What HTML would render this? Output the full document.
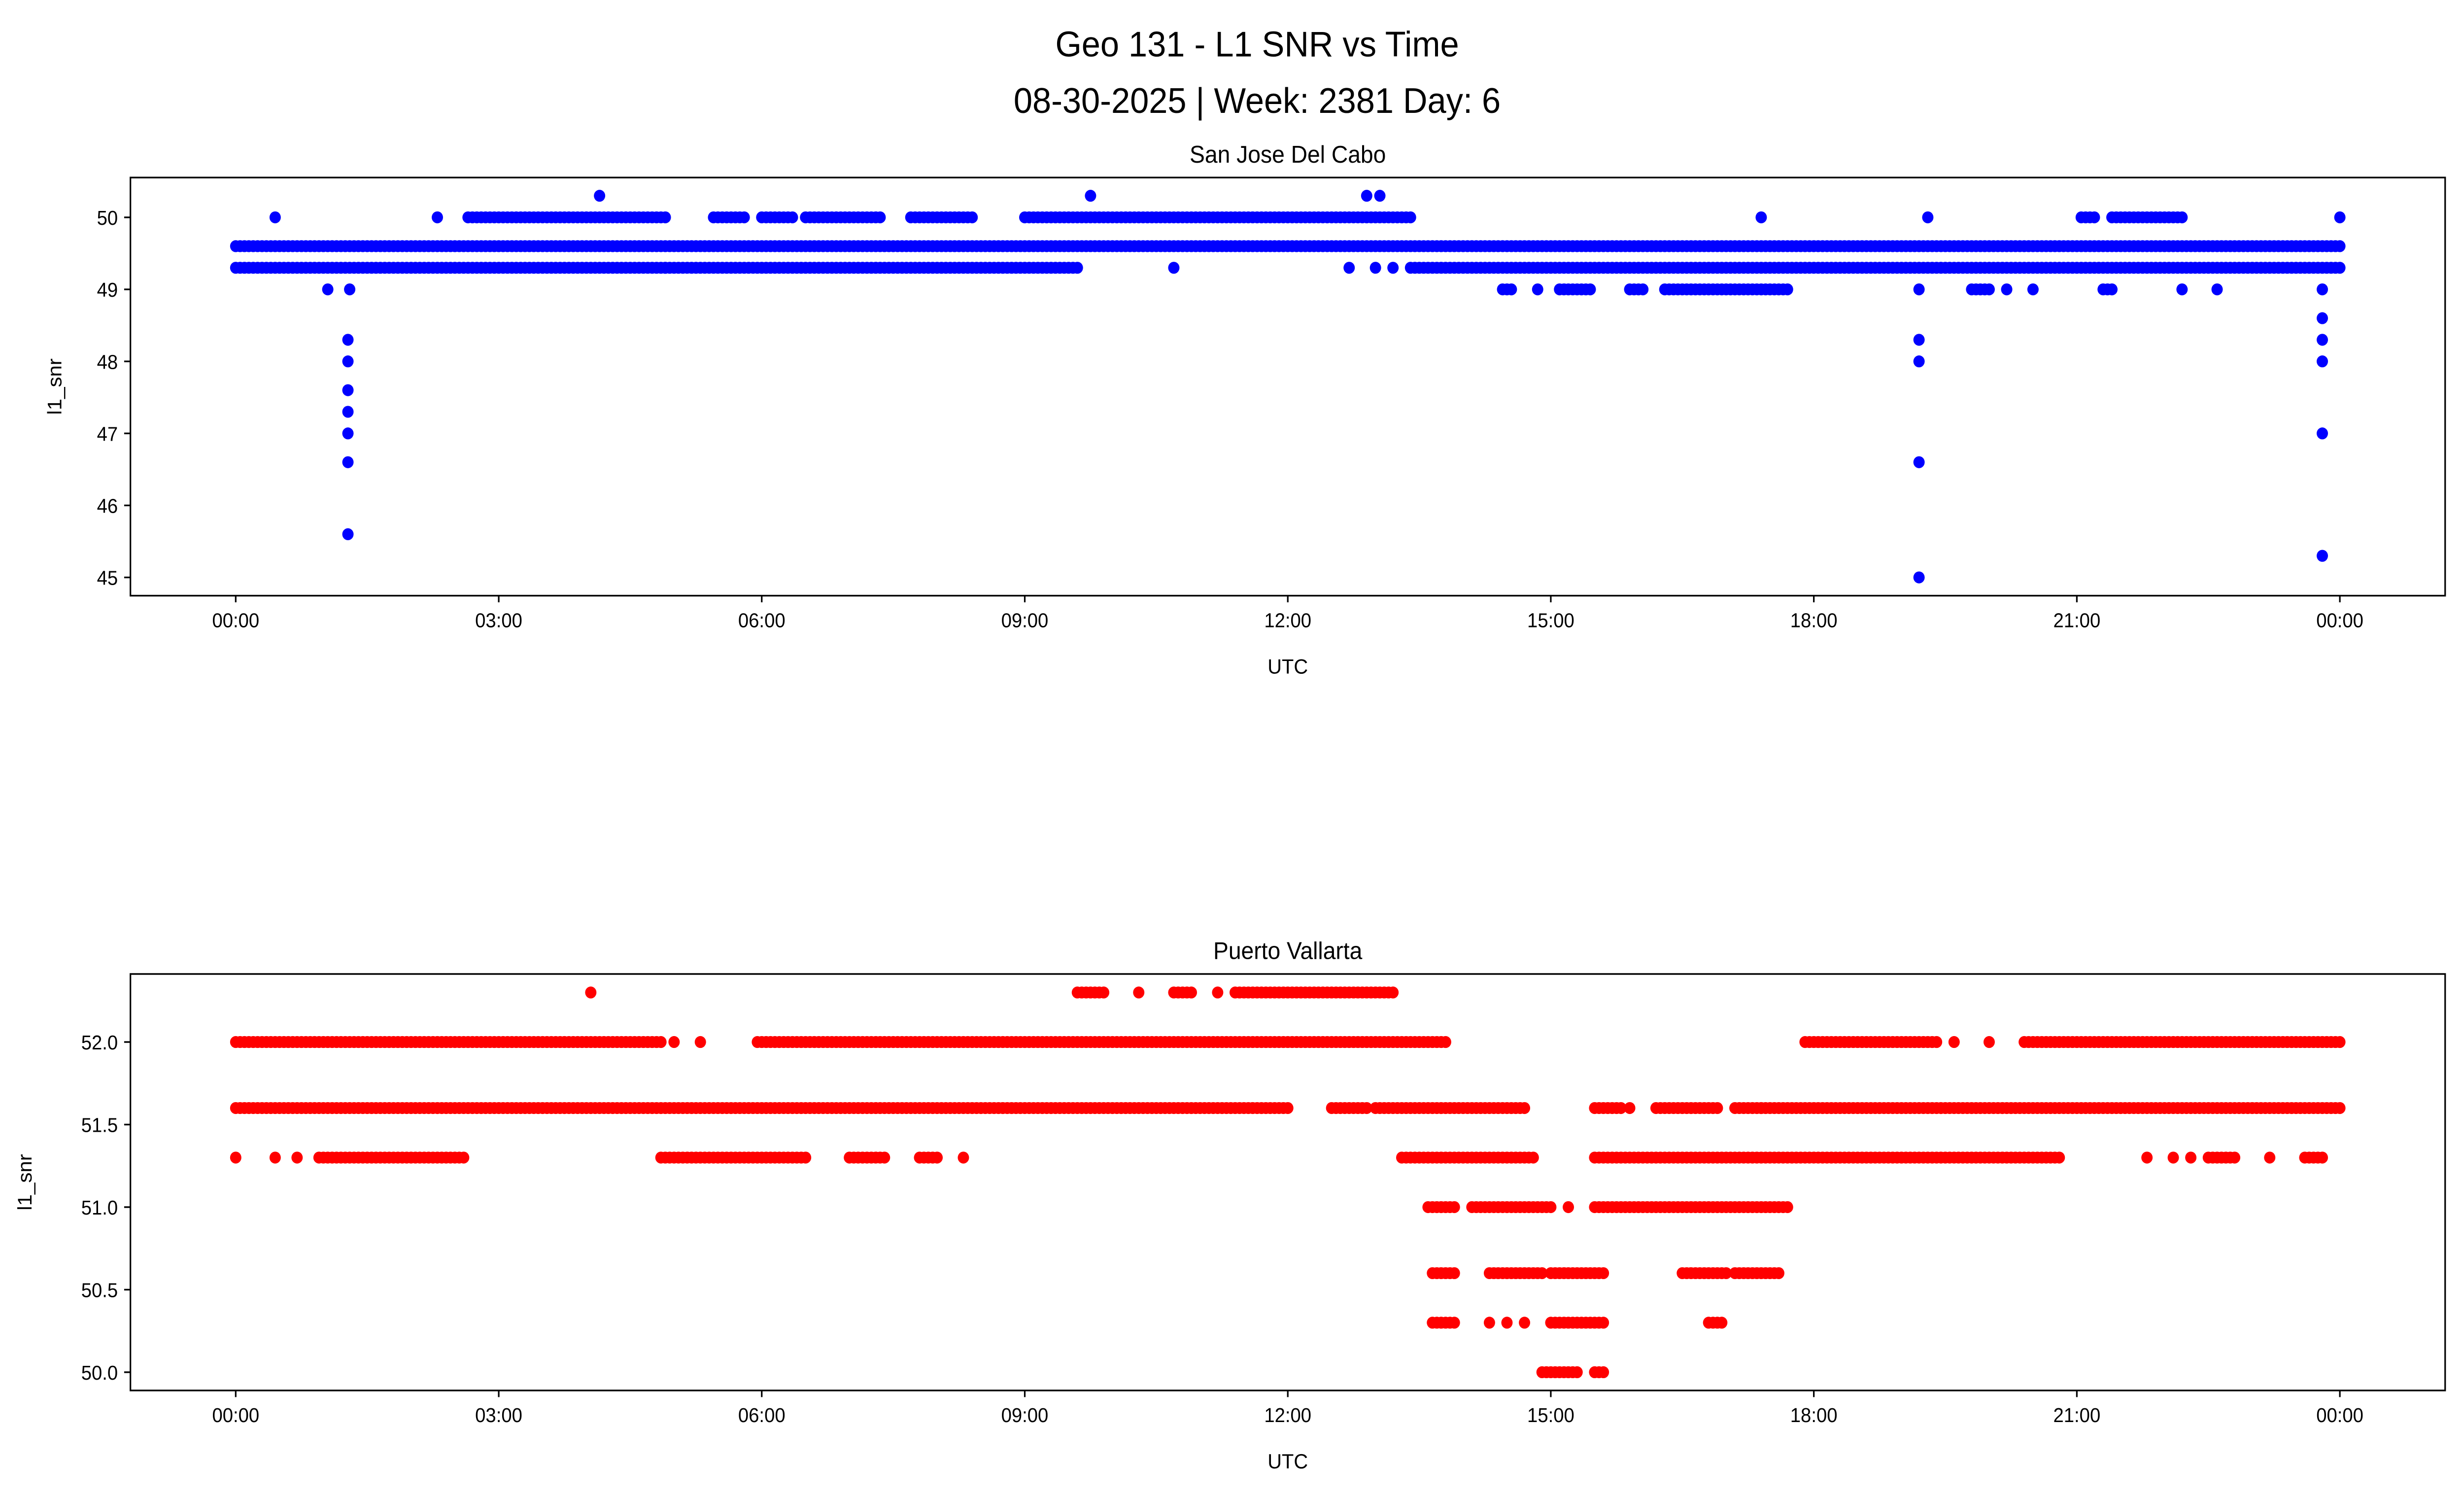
<!DOCTYPE html>
<html><head><meta charset="utf-8">
<style>
html,body{margin:0;padding:0;background:#fff;width:100%;height:100%;overflow:hidden;}
svg{display:block;width:100vw;height:100vh;font-family:"Liberation Sans","DejaVu Sans",sans-serif;}
</style></head>
<body>
<svg id="chart" viewBox="0 0 1568 901" preserveAspectRatio="none" xmlns="http://www.w3.org/2000/svg">
<rect width="1568" height="901" fill="#fff"/>
<text x="800" y="34" font-size="21.5" text-anchor="middle">Geo 131 - L1 SNR vs Time</text>
<text x="800" y="68" font-size="21.5" text-anchor="middle">08-30-2025 | Week: 2381 Day: 6</text>
<g id="top"></g>
<g id="bot"></g>
</svg>
<script>
const xTickLabels = ["00:00","03:00","06:00","09:00","12:00","15:00","18:00","21:00","00:00"];
const topYTicks = [45,46,47,48,49,50];
const botYTicks = [50.0,50.5,51.0,51.5,52.0];
// runs: [startHour, endHour, snr]
const topRuns = [[0,24,49.6],[0,4.9,49.3],[4.9,9.6,49.3],[13.4,24,49.3],[2.65,4.9,50],[5.45,5.8,50],[6.0,6.35,50],[6.5,7.35,50],[7.7,8.4,50],[9.0,13.4,50],[21.05,21.2,50],[21.4,22.2,50],[14.45,14.55,49],[15.1,15.45,49],[15.9,16.05,49],[16.3,17.7,49],[19.8,20.0,49],[21.3,21.4,49]];
const topPoints = [[10.7,49.3],[12.7,49.3],[13.0,49.3],[13.2,49.3],[0.45,50],[2.3,50],[17.4,50],[19.3,50],[24,50],[4.15,50.3],[9.75,50.3],[12.9,50.3],[13.05,50.3],[1.05,49],[1.3,49],[14.85,49],[19.2,49],[20.2,49],[20.5,49],[22.2,49],[22.6,49],[23.8,49],
[1.28,48.3],[1.28,48.0],[1.28,47.6],[1.28,47.3],[1.28,47.0],[1.28,46.6],[1.28,45.6],[19.2,48.3],[19.2,48.0],[19.2,46.6],[19.2,45.0],[23.8,48.6],[23.8,48.3],[23.8,48.0],[23.8,47.0],[23.8,45.3]];
const botRuns = [[0,12.0,51.6],[12.5,12.9,51.6],[13.0,14.7,51.6],[15.5,15.8,51.6],[16.2,16.9,51.6],[17.1,17.4,51.6],[17.4,24,51.6],
[0,4.85,52.0],[5.95,13.8,52.0],[17.9,19.4,52.0],[20.4,24,52.0],[9.6,9.9,52.3],[10.7,10.9,52.3],[11.4,13.2,52.3],
[0.95,2.6,51.3],[4.85,6.5,51.3],[7.0,7.4,51.3],[7.8,8.0,51.3],[13.3,14.8,51.3],[15.5,20.8,51.3],[22.5,22.8,51.3],[23.6,23.8,51.3],
[13.6,13.9,51.0],[14.1,15.0,51.0],[15.5,17.7,51.0],[13.65,13.9,50.6],[14.3,14.9,50.6],[15.0,15.6,50.6],[16.5,17.0,50.6],[17.1,17.6,50.6],
[13.65,13.9,50.3],[15.0,15.6,50.3],[16.8,16.95,50.3],[14.9,15.3,50.0],[15.5,15.6,50.0]];
const botPoints = [[4.05,52.3],[10.3,52.3],[11.2,52.3],[5.0,52.0],[5.3,52.0],[19.6,52.0],[20.0,52.0],[15.9,51.6],[0,51.3],[0.45,51.3],[0.7,51.3],[8.3,51.3],[21.8,51.3],[22.1,51.3],[22.3,51.3],[23.2,51.3],[15.2,51.0],[14.3,50.3],[14.5,50.3],[14.7,50.3]];

const NS="http://www.w3.org/2000/svg";
function mk(tag,attrs,parent){const e=document.createElementNS(NS,tag);for(const k in attrs)e.setAttribute(k,attrs[k]);parent.appendChild(e);return e;}

function panel(g,box,title,yTicks,yMin,yMax,yPxMin,yPxMax,runs,points,color,fmt,name,ylx){
  const xs=h=>150+h*(1489-150)/24;
  const ys=v=>yPxMin+(v-yMin)*(yPxMax-yPxMin)/(yMax-yMin);
  const t=mk('text',{x:(box.x0+box.x1)/2,y:box.y0-9,'font-size':14.5,'text-anchor':'middle'},g);
  t.textContent=title;
  
  
  const pts=mk('g',{},g);
  
  
  const dot=(h,v)=>{const c=mk('circle',{cx:xs(h),cy:ys(v),r:3.6,fill:color},pts);
    
    };
  runs.forEach(r=>{for(let h=r[0];h<=r[1]+1e-9;h+=0.05)dot(h,r[2]);});
  points.forEach(p=>dot(p[0],p[1]));
  const fr=mk('rect',{x:box.x0,y:box.y0,width:box.x1-box.x0,height:box.y1-box.y0,fill:'none',stroke:'#000','stroke-width':1},g);
  
  
  xTickLabels.forEach((l,i)=>{const x=xs(i*3);
    mk('line',{x1:x,x2:x,y1:box.y1,y2:box.y1+4,stroke:'#000'},g);
    const tt=mk('text',{x:x,y:box.y1+19,'font-size':12,'text-anchor':'middle'},g);tt.textContent=l;
    
    });
  yTicks.forEach(v=>{const y=ys(v);
    mk('line',{x1:box.x0-4,x2:box.x0,y1:y,y2:y,stroke:'#000'},g);
    const tt=mk('text',{x:box.x0-8,y:y+4.5,'font-size':12,'text-anchor':'end'},g);tt.textContent=fmt(v);
    
    });
  const xl=mk('text',{x:(box.x0+box.x1)/2,y:box.y1+47,'font-size':12.5,'text-anchor':'middle'},g);xl.textContent='UTC';
  
  
  const cy=(box.y0+box.y1)/2;
  const yl=mk('text',{x:ylx,y:cy,'font-size':12.5,'text-anchor':'middle',transform:`rotate(-90 ${ylx} ${cy})`},g);yl.textContent='l1_snr';
  
  
}
const gt=document.getElementById('top');


const gb=document.getElementById('bot');


panel(gt,{x0:83,x1:1556,y0:107,y1:359},'San Jose Del Cabo',topYTicks,45,50,348,131,topRuns,topPoints,'#0000ff',v=>String(v),'top',39);
panel(gb,{x0:83,x1:1556,y0:587,y1:838},'Puerto Vallarta',botYTicks,50,52,827,628,botRuns,botPoints,'#ff0000',v=>v.toFixed(1),'bottom',20);
</script>
</body></html>
